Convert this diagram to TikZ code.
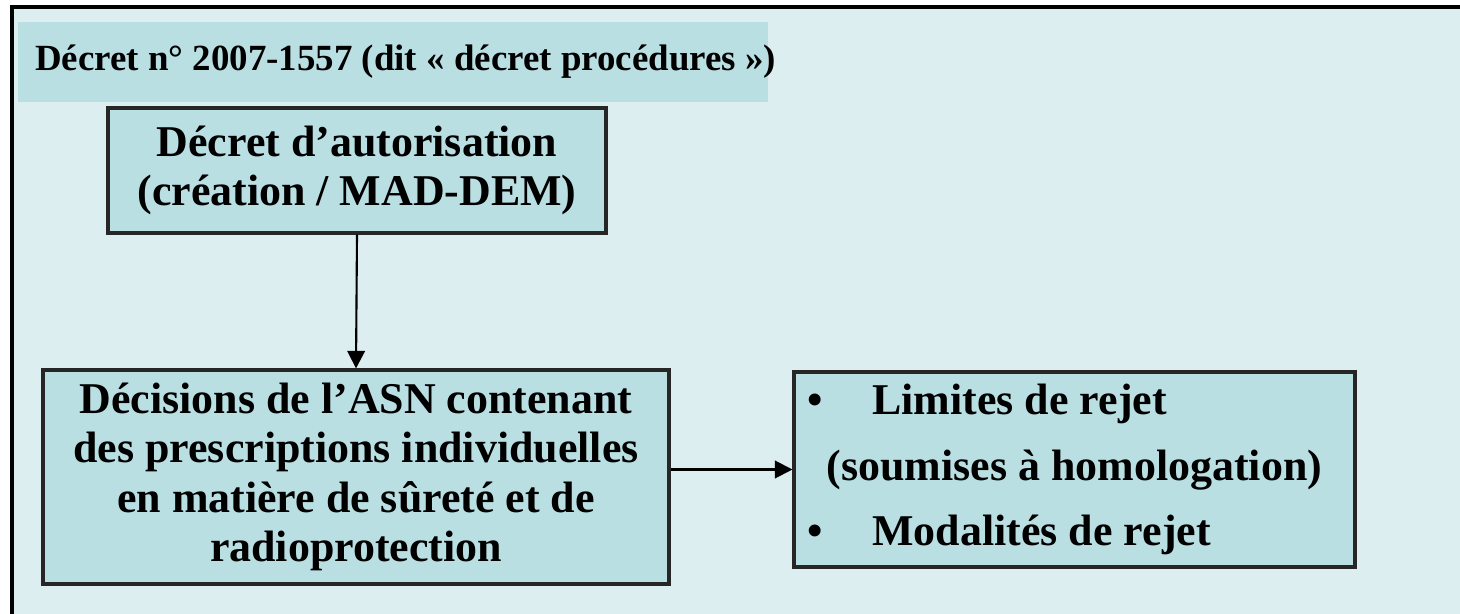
\documentclass[tikz,border=0pt]{standalone}
\usepackage{fontspec}
\setmainfont{Liberation Serif}
\usetikzlibrary{arrows.meta, positioning}
\definecolor{fond}{RGB}{221,238,241}
\definecolor{bleu}{RGB}{185,223,227}
\tikzset{
    boite/.style={draw=black!85, line width=1.8pt, fill=bleu, align=center, inner sep=0pt, font=\bfseries\fontsize{25}{28}\selectfont}, % the cyan boxes
    fleche/.style={-{Triangle[length=10pt, width=10pt]}, line width=1.2pt}, % connectors
}

\begin{document}
\begin{tikzpicture}[x=0.02cm, y=-0.02cm]
    \useasboundingbox (0,0) rectangle (1460,614);
    \fill[fond] (12,7) rectangle (1460,614);
    \draw[line width=2pt] (12,614) -- (12,7) -- (1460,7);
    % title band
    \fill[bleu] (18,22) rectangle (768,102);
    \node[anchor=west, inner sep=0pt, font=\bfseries\fontsize{21}{23}\selectfont] (titre) at (35,62) {Décret n° 2007-1557 (dit « décret procédures »)};
    % boxes
    \node[boite, minimum width=9.96cm, minimum height=2.5cm] (decret) at (357,170.5) {Décret d’autorisation\\(création / MAD-DEM)};
    \node[boite, minimum width=12.52cm, minimum height=4.28cm] (asn) at (356,477) {Décisions de l’ASN contenant\\des prescriptions individuelles\\en matière de sûreté et de\\radioprotection};
    \node[boite, minimum width=11.22cm, minimum height=3.9cm, align=left, font=\bfseries\fontsize{25}{37.5}\selectfont] (rejet) at (1074.5,469.5) {\hspace*{26pt}\llap{\textbullet\hspace{28pt}}Limites de rejet\\(soumises à homologation)\\\hspace*{26pt}\llap{\textbullet\hspace{28pt}}Modalités de rejet};
    % connectors
    \draw[fleche] (decret.south) -- (asn.north);
    \draw[fleche] (asn.east |- rejet.west) -- (rejet.west);
\end{tikzpicture}
\end{document}
